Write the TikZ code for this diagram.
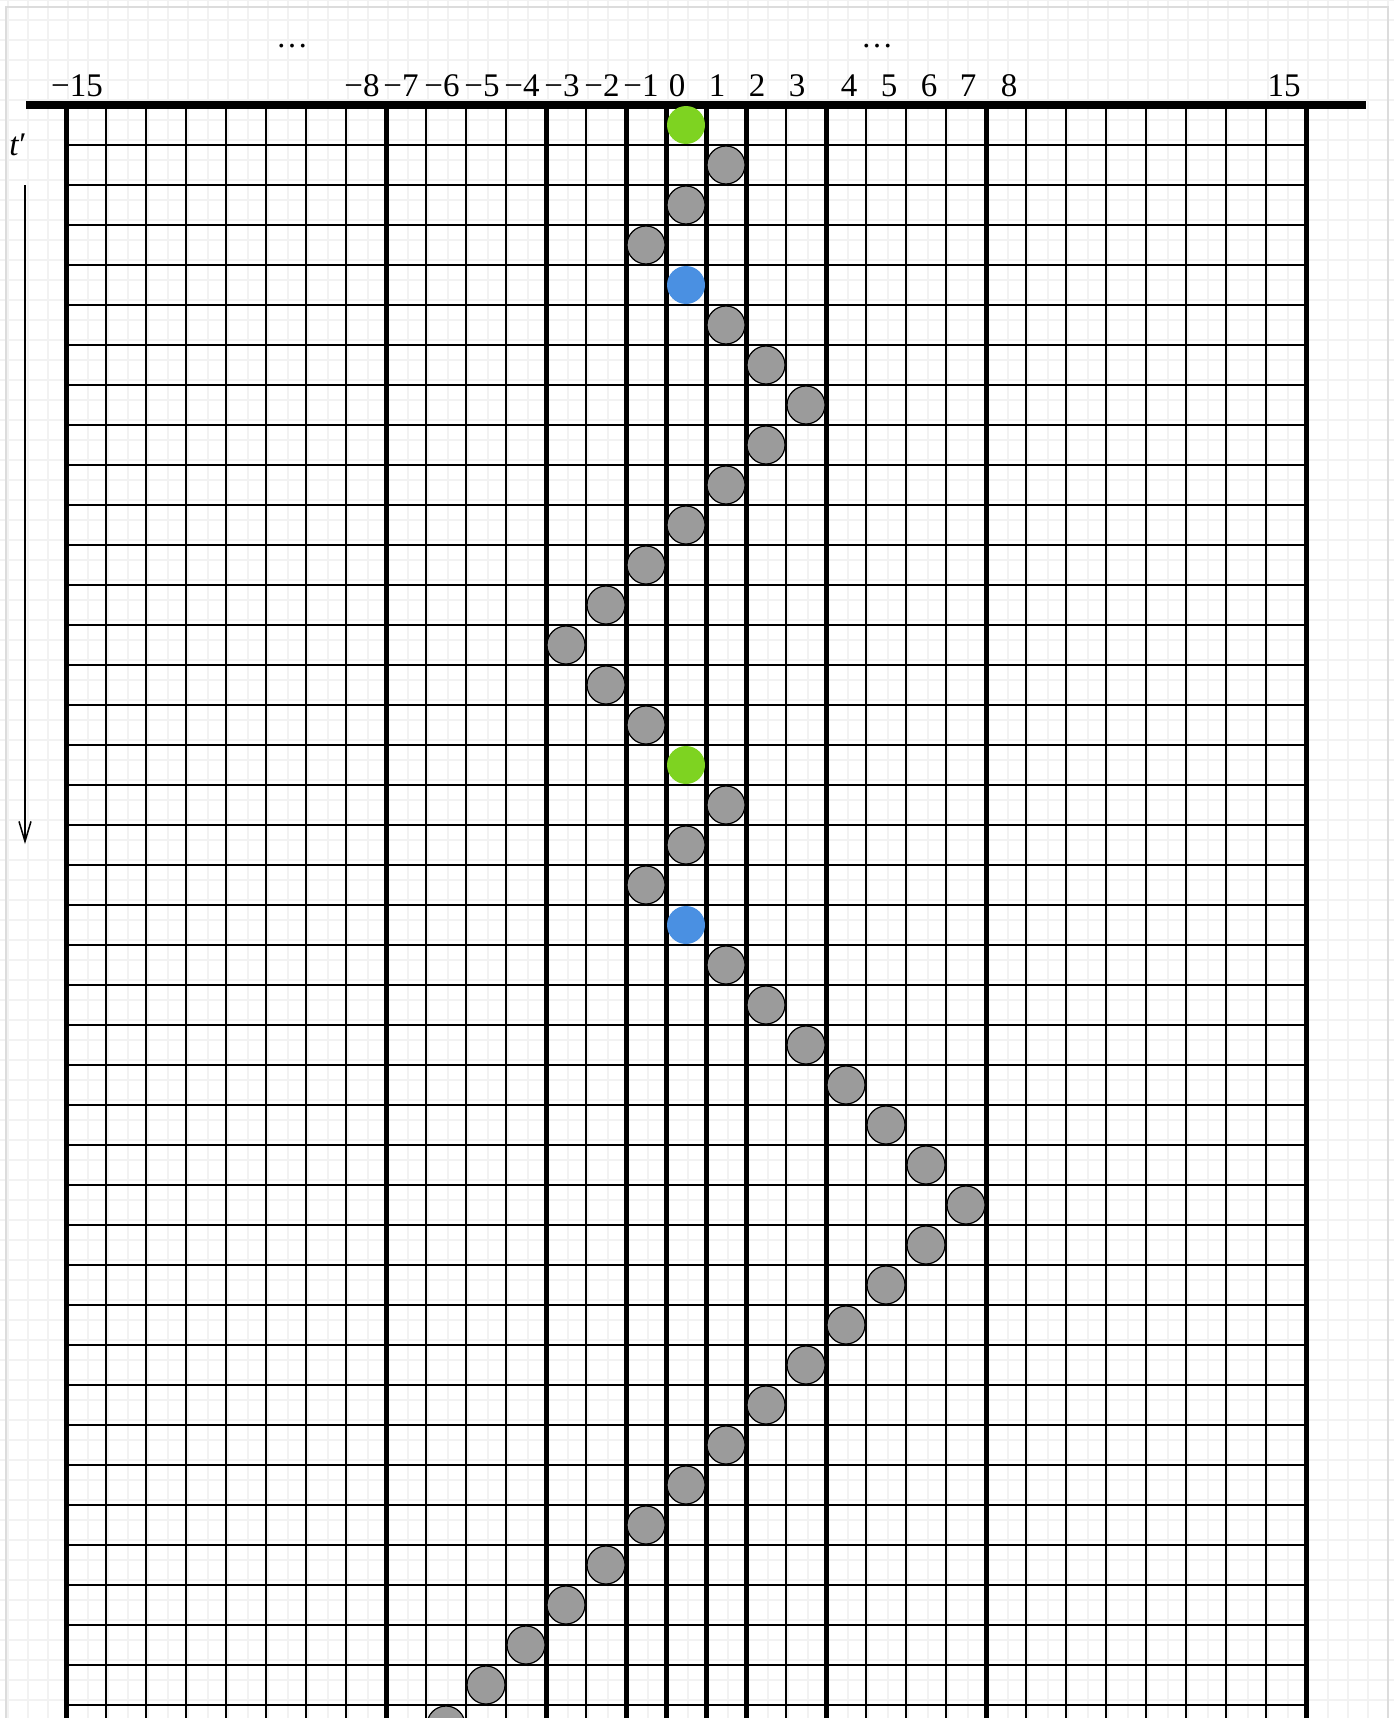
\documentclass[tikz,border=0pt]{standalone}
\usepackage{fontspec}
\setmainfont{Liberation Serif}
\usetikzlibrary{arrows.meta}
\definecolor{dotgreen}{HTML}{7ED321}
\definecolor{dotblue}{HTML}{4A90E2}
\definecolor{dotgray}{HTML}{9B9B9B}
\definecolor{faintgrid}{HTML}{F2F2F2}
\definecolor{framegray}{HTML}{DCDCDC}
\begin{document}
\begin{tikzpicture}[x=0.5pt,y=-0.5pt,
  bggrid/.style={faintgrid, line width=0.6pt},
  thingrid/.style={line width=0.9pt},
  thickgrid/.style={line width=2.5pt},
  axisbar/.style={line width=4.3pt},
  dot/.style={circle, minimum size=19pt, inner sep=0pt},
  graydot/.style={dot, fill=dotgray, draw=black, line width=0.6pt},
  greendot/.style={dot, fill=dotgreen},
  bluedot/.style={dot, fill=dotblue},
  lab/.style={anchor=base, inner sep=0pt, font=\fontsize{16.5}{19}\selectfont},
  ellip/.style={inner sep=0pt, font=\fontsize{16}{19}\selectfont}
]
\useasboundingbox (0,0) rectangle (1394,1718);
\clip (0,0) rectangle (1394,1718);
\fill[white] (0,0) rectangle (1394,1718);
% faint background grid
\foreach \i in {0,...,69} \draw[bggrid] ({8+20*\i},0) -- ({8+20*\i},1718);
\foreach \j in {0,...,86} \draw[bggrid] (0,{20*\j}) -- (1394,{20*\j});
\draw[framegray, line width=0.8pt] (6,1730) -- (6,7) -- (1388,7) -- (1388,1730);
% main grid
\foreach \k in {1,...,40} \draw[thingrid] (66,{105+40*\k}) -- (1306,{105+40*\k});
\foreach \i in {0,...,31} \draw[thingrid] ({66+40*\i},105) -- ({66+40*\i},1730);
\foreach \i in {0,8,12,14,15,16,17,19,23,31} \draw[thickgrid] ({66+40*\i},105) -- ({66+40*\i},1730);
\draw[axisbar] (26,105) -- (1366,105);
% labels
\foreach \n/\t/\x in {m15/−15/77, m8/−8/362, m7/−7/401, m6/−6/442, m5/−5/482, m4/−4/522, m3/−3/562, m2/−2/602, m1/−1/641, z0/0/677, p1/1/717, p2/2/757, p3/3/797, p4/4/849, p5/5/889, p6/6/929, p7/7/968, p8/8/1009, p15/15/1284}
  \node[lab] (lab\n) at (\x,97) {\t};
\node[ellip] (dotsL) at (292,46) {…};
\node[ellip] (dotsR) at (877,46) {…};
% time axis
\node[lab, anchor=center] (tlabel) at (18,145) {\textit{t}′};
\coordinate (arrS) at (25,185);
\coordinate (arrE) at (25,844);
\draw[-{Straight Barb[length=10pt,width=6pt]}, line width=0.75pt] (arrS) -- (arrE);
% walk
\foreach \r/\p in {1/1,2/0,3/-1,5/1,6/2,7/3,8/2,9/1,10/0,11/-1,12/-2,13/-3,14/-2,15/-1,17/1,18/0,19/-1,21/1,22/2,23/3,24/4,25/5,26/6,27/7,28/6,29/5,30/4,31/3,32/2,33/1,34/0,35/-1,36/-2,37/-3,38/-4,39/-5,40/-6}
  \node[graydot] (d\r) at ({86+40*(\p+15)},{125+40*\r}) {};
\foreach \r in {0,16} \node[greendot] (d\r) at (686,{125+40*\r}) {};
\foreach \r in {4,20} \node[bluedot] (d\r) at (686,{125+40*\r}) {};
\end{tikzpicture}
\end{document}
